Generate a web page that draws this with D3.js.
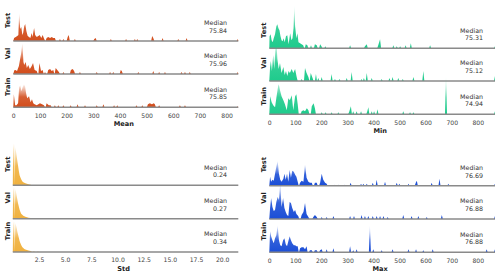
<!DOCTYPE html>
<html>
<head>
<meta charset="utf-8">
<script src="https://cdn.jsdelivr.net/npm/d3@7"></script>
<style>
  body { margin: 0; background: #fff; }
  svg { display: block; font-family: "DejaVu Sans", sans-serif; }
</style>
</head>
<body>
<div id="chart"></div>
<script>
const width = 500;
const height = 276;

// histogram bins: [value, relative density]
const rows = ["Test", "Val", "Train"];

const meanTest = [[3,3],[9,4],[15,5],[19,6],[22,28],[26,12],[30,14],[34,6],[37,8],[41,15],[45,17],[49,10],[54,5],[59,4],[64,3],[69,8],[72,4],[78,13],[82,6],[88,4],[94,5],[99,6],[105,3],[110,6],[116,2],[125,3],[131,4],[138,3],[144,4],[150,3],[156,3],[175,2],[188,2],[204,4],[208,6],[231,2],[304,2],[309,3],[366,2],[423,2],[456,2],[465,2],[521,5],[525,3],[560,3],[619,2],[650,3],[842,2]];
const meanVal = [[3,3],[5,4],[8,4],[14,3],[21,8],[25,14],[29,20],[34,31],[38,12],[41,9],[46,12],[51,6],[56,9],[62,5],[69,8],[74,11],[80,4],[88,3],[98,11],[104,3],[110,4],[119,2],[131,4],[138,5],[144,3],[150,4],[159,6],[165,4],[171,2],[188,2],[216,4],[223,5],[228,3],[250,2],[313,2],[363,2],[375,2],[403,4],[407,3],[469,2],[525,3],[547,2],[569,2],[631,2],[644,2],[662,2],[842,2]];
const meanTrain = [[2,13],[7,2],[12,2],[18,4],[22,20],[26,22],[31,16],[35,20],[40,23],[44,21],[48,14],[52,9],[59,11],[65,5],[70,8],[75,4],[80,3],[88,2],[94,3],[100,4],[108,3],[115,2],[125,4],[133,2],[140,2],[156,2],[169,2],[188,2],[215,2],[241,3],[269,2],[313,2],[338,3],[378,2],[390,2],[462,2],[484,2],[505,3],[512,4],[520,3],[527,4],[531,3],[547,2],[625,2],[644,2],[842,1]];

const minTest = [[1,12],[5,14],[9,8],[13,6],[17,10],[22,14],[27,22],[31,24],[35,20],[39,18],[43,12],[47,8],[51,7],[55,10],[59,6],[64,12],[69,13],[74,4],[80,15],[85,8],[89,10],[93,20],[96,43],[99,22],[104,10],[108,15],[112,6],[118,5],[124,4],[130,3],[140,4],[146,3],[160,3],[175,4],[182,3],[195,4],[200,2],[215,2],[310,3],[367,2],[374,4],[418,3],[425,9],[476,3],[489,2],[502,2],[523,3],[543,5],[617,3],[866,2]];
const minVal = [[3,14],[6,20],[10,10],[15,26],[19,12],[23,30],[27,40],[31,22],[36,12],[41,18],[47,8],[54,14],[59,6],[64,10],[69,5],[74,10],[79,8],[86,12],[92,8],[99,12],[105,4],[124,2],[137,13],[143,8],[150,4],[159,8],[166,3],[179,7],[188,3],[201,4],[239,7],[252,2],[269,2],[297,3],[316,9],[354,2],[363,3],[374,8],[393,3],[431,2],[461,3],[473,4],[495,3],[512,2],[553,4],[591,10],[866,5]];
const minTrain = [[3,18],[9,12],[15,9],[22,7],[28,18],[35,30],[38,28],[41,24],[47,18],[54,14],[60,10],[67,4],[73,16],[79,14],[86,19],[92,4],[99,18],[104,20],[109,10],[124,3],[131,4],[137,3],[144,6],[150,4],[163,8],[170,11],[175,6],[201,2],[216,2],[239,2],[265,2],[306,2],[313,8],[322,3],[335,3],[352,3],[376,3],[380,7],[393,3],[402,3],[415,5],[514,3],[540,2],[553,2],[678,38],[866,3]];

const stdTest = [[0.03,36],[0.09,42],[0.14,40],[0.19,0],[0.24,38],[0.3,34],[0.37,29],[0.44,24],[0.51,19],[0.58,14],[0.65,10],[0.72,8],[0.8,6],[0.9,4],[1.0,3],[1.1,2.5],[1.2,2],[1.35,1.5],[1.5,1],[1.7,0.6],[2.0,0.3],[2.4,0.1]];
const stdVal = [[0.03,28],[0.09,32],[0.14,31],[0.19,0],[0.24,30],[0.3,27],[0.37,23],[0.44,19],[0.51,15],[0.58,12],[0.65,9],[0.72,7],[0.8,5],[0.9,4],[1.0,3],[1.1,2.5],[1.2,2],[1.35,1.5],[1.5,1],[1.7,0.6],[2.0,0.3],[2.4,0.1]];
const stdTrain = [[0.03,27],[0.09,31],[0.14,30],[0.19,0],[0.24,29],[0.3,27],[0.37,24],[0.44,20],[0.51,17],[0.58,14],[0.65,11],[0.72,9],[0.8,7],[0.9,5],[1.0,4],[1.1,3],[1.2,2.5],[1.35,2],[1.5,1.5],[1.7,1],[2.0,0.5],[2.4,0.2]];

const maxTest = [[3,9],[7,4],[12,6],[17,5],[22,12],[27,19],[32,25],[37,12],[42,6],[47,4],[54,7],[58,12],[63,6],[68,12],[73,4],[78,16],[83,8],[88,15],[94,14],[99,11],[104,9],[109,4],[118,3],[124,5],[131,4],[137,21],[143,8],[150,4],[156,3],[163,3],[175,3],[182,3],[195,3],[201,12],[207,6],[214,3],[220,2],[252,1],[265,1],[290,1],[312,3],[352,2],[361,2],[374,2],[397,3],[412,6],[444,4],[489,3],[499,2],[534,2],[562,3],[566,5],[623,3],[653,7],[687,2],[866,2]];
const maxVal = [[3,11],[7,21],[12,12],[17,8],[22,9],[27,17],[32,22],[37,19],[42,36],[47,12],[53,21],[58,11],[63,7],[68,4],[73,3],[78,17],[83,16],[88,11],[94,7],[99,9],[104,5],[111,3],[124,4],[131,7],[137,16],[143,5],[150,2],[169,2],[175,4],[182,2],[201,2],[220,2],[246,3],[310,3],[325,3],[354,4],[367,3],[380,3],[397,3],[412,3],[425,3],[438,3],[454,2],[514,4],[546,3],[572,3],[604,2],[662,4],[866,3]];
const maxTrain = [[3,21],[7,16],[12,12],[17,9],[22,14],[27,17],[32,27],[37,12],[42,7],[47,6],[53,12],[58,14],[63,8],[68,6],[73,11],[78,16],[83,12],[88,9],[94,7],[99,7],[104,6],[109,6],[118,4],[124,5],[131,5],[137,3],[143,6],[156,2],[163,2],[175,2],[182,2],[195,2],[201,3],[220,3],[246,4],[310,6],[322,2],[335,3],[386,27],[399,3],[431,2],[473,3],[534,3],[563,3],[591,2],[627,3],[834,3],[866,3]];

const meanMedians = ["75.84", "75.96", "75.85"];
const minMedians = ["75.31", "75.12", "74.94"];
const stdMedians = ["0.24", "0.27", "0.34"];
const maxMedians = ["76.69", "76.88", "76.88"];

const countTicks = [0, 100, 200, 300, 400, 500, 600, 700, 800];
const stdTicks = [2.5, 5.0, 7.5, 10.0, 12.5, 15.0, 17.5, 20.0];

// layout of the four panels
const panels = [
  { title: "Mean", series: [meanTest, meanVal, meanTrain], medians: meanMedians, color: "#d24d1c",
    domain: [0, 844], range: [13.3, 238.3], baselines: [41, 74, 107.3], labelX: 7.5, labelUp: 20.5,
    medianX: 227, ticks: countTicks, fmt: d3.format("d"), hw: 4 },
  { title: "Min", series: [minTest, minVal, minTrain], medians: minMedians, color: "#1ecb8c",
    domain: [0, 866], range: [269.3, 495], baselines: [48.3, 81, 114.3], labelX: 264, labelUp: 18,
    medianX: 483, ticks: countTicks, fmt: d3.format("d"), hw: 4 },
  { title: "Std", series: [stdTest, stdVal, stdTrain], medians: stdMedians, color: "#f0b13e",
    domain: [0, 21.54], range: [12.8, 238.3], baselines: [185.3, 218.7, 252], labelX: 7.5, labelUp: 21,
    medianX: 227, ticks: stdTicks, fmt: d3.format(".1f"), hw: 0.15 },
  { title: "Max", series: [maxTest, maxVal, maxTrain], medians: maxMedians, color: "#1b4ed6",
    domain: [0, 866], range: [269.3, 495], baselines: [185.7, 219, 252.3], labelX: 264, labelUp: 21,
    medianX: 483, ticks: countTicks, fmt: d3.format("d"), hw: 4 }
];

const svg = d3.select("#chart").append("svg")
  .attr("width", width)
  .attr("height", height);

const defs = svg.append("defs");

// density -> pixel height (shared by every row)
const yScale = d3.scaleLinear().domain([0, 44]).range([0, 44]);

// insert zero points around isolated bins so each bin reads as a spike
function spikePoints(bins, hw, domain) {
  const pts = [];
  bins.forEach((b, i) => {
    const prev = bins[i - 1];
    if (!prev || b[0] - prev[0] > 2 * hw) {
      if (prev) pts.push([prev[0] + hw, 0]);
      pts.push([Math.max(domain[0], b[0] - hw), 0]);
    }
    pts.push(b);
  });
  const last = bins[bins.length - 1];
  pts.push([Math.min(domain[1], last[0] + hw), 0]);
  return pts;
}

panels.forEach((p, pi) => {
  const x = d3.scaleLinear().domain(p.domain).range(p.range);

  const grad = defs.append("linearGradient")
    .attr("id", "grad" + pi)
    .attr("x1", 0).attr("y1", 1)
    .attr("x2", 0).attr("y2", 0);
  grad.append("stop").attr("offset", 0).attr("stop-color", p.color).attr("stop-opacity", 1);
  grad.append("stop").attr("offset", 0.45).attr("stop-color", p.color).attr("stop-opacity", 0.9);
  grad.append("stop").attr("offset", 1).attr("stop-color", p.color).attr("stop-opacity", 0.05);

  const g = svg.append("g");

  p.series.forEach((bins, ri) => {
    const base = p.baselines[ri];
    const area = d3.area()
      .x(d => x(d[0]))
      .y0(base)
      .y1(d => base - yScale(d[1]));

    g.append("path")
      .datum(spikePoints(bins, p.hw, p.domain))
      .attr("d", area)
      .attr("fill", "url(#grad" + pi + ")");

    g.append("line")
      .attr("x1", p.range[0]).attr("x2", p.range[1])
      .attr("y1", base).attr("y2", base)
      .attr("stroke", "#8a8a8a")
      .attr("stroke-width", 1.4);

    g.append("text")
      .attr("transform", `translate(${p.labelX},${base - p.labelUp}) rotate(-90)`)
      .attr("text-anchor", "middle")
      .attr("dominant-baseline", "central")
      .attr("font-size", 6.6)
      .attr("font-weight", "bold")
      .attr("fill", "#222")
      .text(rows[ri]);

    const med = g.append("text")
      .attr("text-anchor", "end")
      .attr("font-size", 6.3)
      .attr("fill", "#333");
    med.append("tspan").attr("x", p.medianX).attr("y", base - 15.8).text("Median");
    med.append("tspan").attr("x", p.medianX).attr("y", base - 8.2).text(p.medians[ri]);
  });

  const axisY = p.baselines[2];
  const axis = d3.axisBottom(x)
    .tickValues(p.ticks)
    .tickFormat(p.fmt)
    .tickSize(0)
    .tickPadding(6);
  const ax = g.append("g")
    .attr("transform", `translate(0,${axisY})`)
    .call(axis);
  ax.select(".domain").remove();
  ax.selectAll("text")
    .attr("font-family", "DejaVu Sans, sans-serif")
    .attr("font-size", 6.1)
    .attr("fill", "#444");

  g.append("text")
    .attr("x", (p.range[0] + p.range[1]) / 2 - 2)
    .attr("y", axisY + 18.5)
    .attr("text-anchor", "middle")
    .attr("font-size", 6.6)
    .attr("font-weight", "bold")
    .attr("fill", "#222")
    .text(p.title);
});
</script>
</body>
</html>
